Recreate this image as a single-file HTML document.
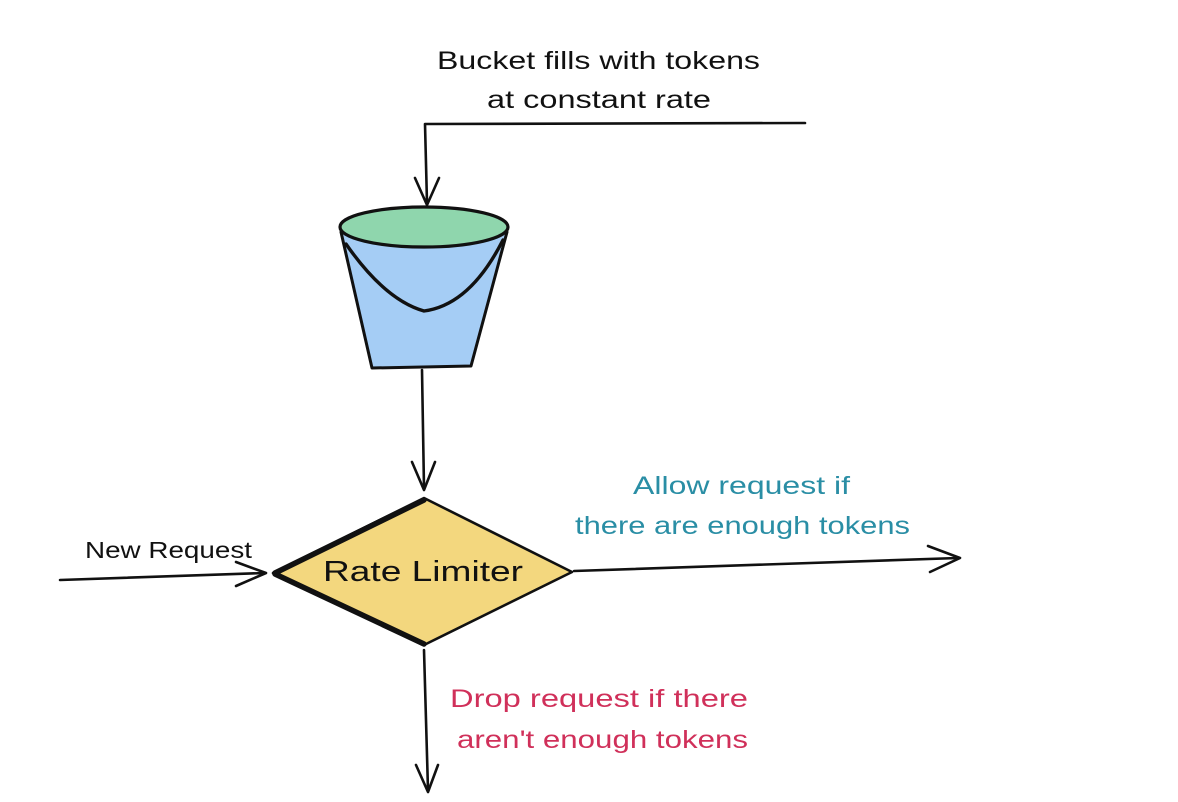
<!DOCTYPE html>
<html><head><meta charset="utf-8"><style>
html,body{margin:0;padding:0;background:#fff;}
svg{display:block;}
text{font-family:"Liberation Sans","DejaVu Sans",sans-serif;}
</style></head><body>
<svg width="1178" height="802" viewBox="0 0 1178 802" xmlns="http://www.w3.org/2000/svg">
<g fill="none" stroke="#111" stroke-width="2.6" stroke-linecap="round" stroke-linejoin="round">
<path d="M805 123 L425 124 L427 203"/>
<path d="M415 178 L427 205 L439 178"/>
<path d="M341 232 L372 368 L471 366 L507 232" fill="#a5cdf5" stroke-width="3"/>
<ellipse cx="424" cy="227" rx="84" ry="20" fill="#8fd6ad" stroke-width="3.2"/>
<path d="M346 244 Q385 300 424 311 Q470 305 503 240" stroke-width="3.4"/>
<path d="M422 370 L424 488"/>
<path d="M412 462 L424 490 L435 462"/>
<path d="M273 573 L424 498 L572 572 L424 645 Z" fill="#f3d77e"/>
<path d="M275 573 L424 500 M275 574 L424 644" stroke-width="5.5"/>
<path d="M60 580 L265 573"/>
<path d="M236 562 L266 573 L236 586"/>
<path d="M574 571 L958 558"/>
<path d="M928 546 L960 558 L930 572"/>
<path d="M424 650 L428 790"/>
<path d="M416 765 L428 792 L438 765"/>
</g>
<g font-size="25" fill="#111">
<text x="437" y="69" textLength="323" lengthAdjust="spacingAndGlyphs">Bucket fills with tokens</text>
<text x="487" y="108" textLength="224" lengthAdjust="spacingAndGlyphs">at constant rate</text>
<text x="85" y="558" font-size="23" textLength="167" lengthAdjust="spacingAndGlyphs">New Request</text>
<text x="323" y="581" font-size="29" textLength="200" lengthAdjust="spacingAndGlyphs">Rate Limiter</text>
</g>
<g font-size="25" fill="#2a8ea5">
<text x="633" y="494" textLength="217" lengthAdjust="spacingAndGlyphs">Allow request if</text>
<text x="575" y="534" textLength="335" lengthAdjust="spacingAndGlyphs">there are enough tokens</text>
</g>
<g font-size="25" fill="#d0305a">
<text x="450" y="707" textLength="298" lengthAdjust="spacingAndGlyphs">Drop request if there</text>
<text x="457" y="748" textLength="291" lengthAdjust="spacingAndGlyphs">aren't enough tokens</text>
</g>
</svg>
</body></html>
